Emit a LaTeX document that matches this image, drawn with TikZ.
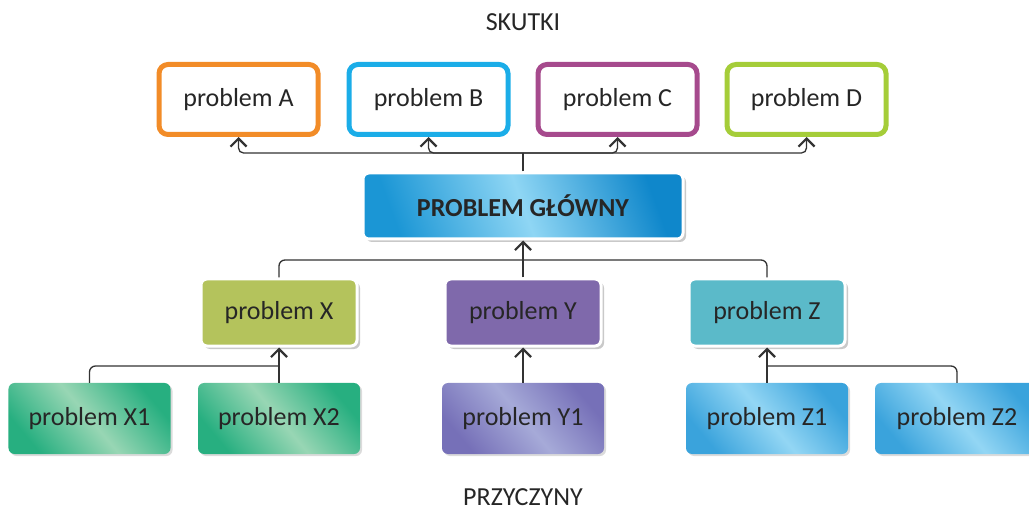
\documentclass[tikz,border=0pt]{standalone}
\usepackage{fontspec}
\setmainfont{Carlito}
\usetikzlibrary{arrows.meta,shadows}
\definecolor{txt}{HTML}{262626}
\definecolor{lne}{HTML}{333333}
\definecolor{cA}{HTML}{F28C28}
\definecolor{cB}{HTML}{1BADE8}
\definecolor{cC}{HTML}{A64A8D}
\definecolor{cD}{HTML}{A5CD39}
\definecolor{mDark}{HTML}{1B96D5}
\definecolor{mLight}{HTML}{8FD6F4}
\definecolor{mRight}{HTML}{0F87CB}
\definecolor{cX}{HTML}{B4C35C}
\definecolor{cY}{HTML}{7F69AB}
\definecolor{cZ}{HTML}{5BBAC9}
\definecolor{gDark}{HTML}{27AF80}
\definecolor{gLight}{HTML}{98D6B4}
\definecolor{pDark}{HTML}{7670B8}
\definecolor{pLight}{HTML}{A6AAD8}
\definecolor{bDark}{HTML}{3AA3DC}
\definecolor{bLight}{HTML}{93D6F4}
\begin{document}
\begin{tikzpicture}[x=1bp,y=-1bp,
  font=\fontsize{26bp}{30bp}\selectfont, text=txt,
  tbox/.style={draw=#1, line width=5bp, rounded corners=9bp, fill=white,
    minimum width=159bp, minimum height=70bp, inner sep=0pt},
  mainbox/.style={draw=white, line width=3bp, rounded corners=6bp,
    minimum width=320bp, minimum height=66bp, inner sep=0pt,
    left color=mDark, right color=mRight, middle color=mLight, shading angle=110,
    drop shadow={shadow xshift=3bp, shadow yshift=-3bp, opacity=.3, fill=black!70}},
  midbox/.style={fill=#1, draw=white, line width=3bp, rounded corners=6bp,
    minimum width=156bp, minimum height=67bp, inner sep=0pt,
    drop shadow={shadow xshift=3bp, shadow yshift=-3bp, opacity=.3, fill=black!70}},
  botbox/.style 2 args={draw=none, rounded corners=6bp,
    minimum width=162bp, minimum height=71bp, inner sep=0pt,
    left color=#1, right color=#1, middle color=#2, shading angle=-50,
    drop shadow={shadow xshift=2bp, shadow yshift=-2bp, opacity=.2, fill=black!70}},
  conn/.style={draw=lne, line width=1.3bp},
  arr/.style={-{Straight Barb[length=8bp,width=16bp,line width=2.2bp]}}
]
\useasboundingbox (0,0) rectangle (1029,510);

% titles
\node (sk) at (523,22) {SKUTKI};
\node (pr) at (523,497) {PRZYCZYNY};

% effects
\node[tbox=cA] (A) at (238.5,99.5) {problem A};
\node[tbox=cB] (B) at (428.5,99.5) {problem B};
\node[tbox=cC] (C) at (617.5,99.5) {problem C};
\node[tbox=cD] (D) at (806.5,99.5) {problem D};

% main problem
\node[mainbox] (main) at (523,206) {\textbf{PROBLEM GŁÓWNY}};

% causes
\node[midbox=cX] (X) at (279,312.5) {problem X};
\node[midbox=cY] (Y) at (523,312.5) {problem Y};
\node[midbox=cZ] (Z) at (767,312.5) {problem Z};

\node[botbox={gDark}{gLight}] (X1) at (89.5,418.5) {problem X1};
\node[botbox={gDark}{gLight}] (X2) at (279,418.5) {problem X2};
\node[botbox={pDark}{pLight}] (Y1) at (523,418.5) {problem Y1};
\node[botbox={bDark}{bLight}] (Z1) at (767,418.5) {problem Z1};
\node[botbox={bDark}{bLight}, minimum width=164bp] (Z2) at (957,418.5) {problem Z2};

% connectors: main -> effects
\coordinate (jt) at (523,153);
\draw[conn] (main.north) -- (jt);
\foreach \n in {A,B,C,D}
  \draw[conn, arr, rounded corners=5bp] (jt) -| (\n.south);

% X, Y, Z -> main
\coordinate (jb) at (523,260);
\draw[conn, arr] (Y.north) -- (main.south);
\draw[conn, rounded corners=6bp] (jb) -| (X.north);
\draw[conn, rounded corners=6bp] (jb) -| (Z.north);

% X1, X2 -> X
\coordinate (jx) at (279,366);
\draw[conn, arr] (X2.north) -- (X.south);
\draw[conn, rounded corners=6bp] (jx) -| (X1.north);

% Y1 -> Y
\draw[conn, arr] (Y1.north) -- (Y.south);

% Z1, Z2 -> Z
\coordinate (jz) at (767,366);
\draw[conn, arr] (Z1.north) -- (Z.south);
\draw[conn, rounded corners=6bp] (jz) -| (Z2.north);
\end{tikzpicture}
\end{document}
